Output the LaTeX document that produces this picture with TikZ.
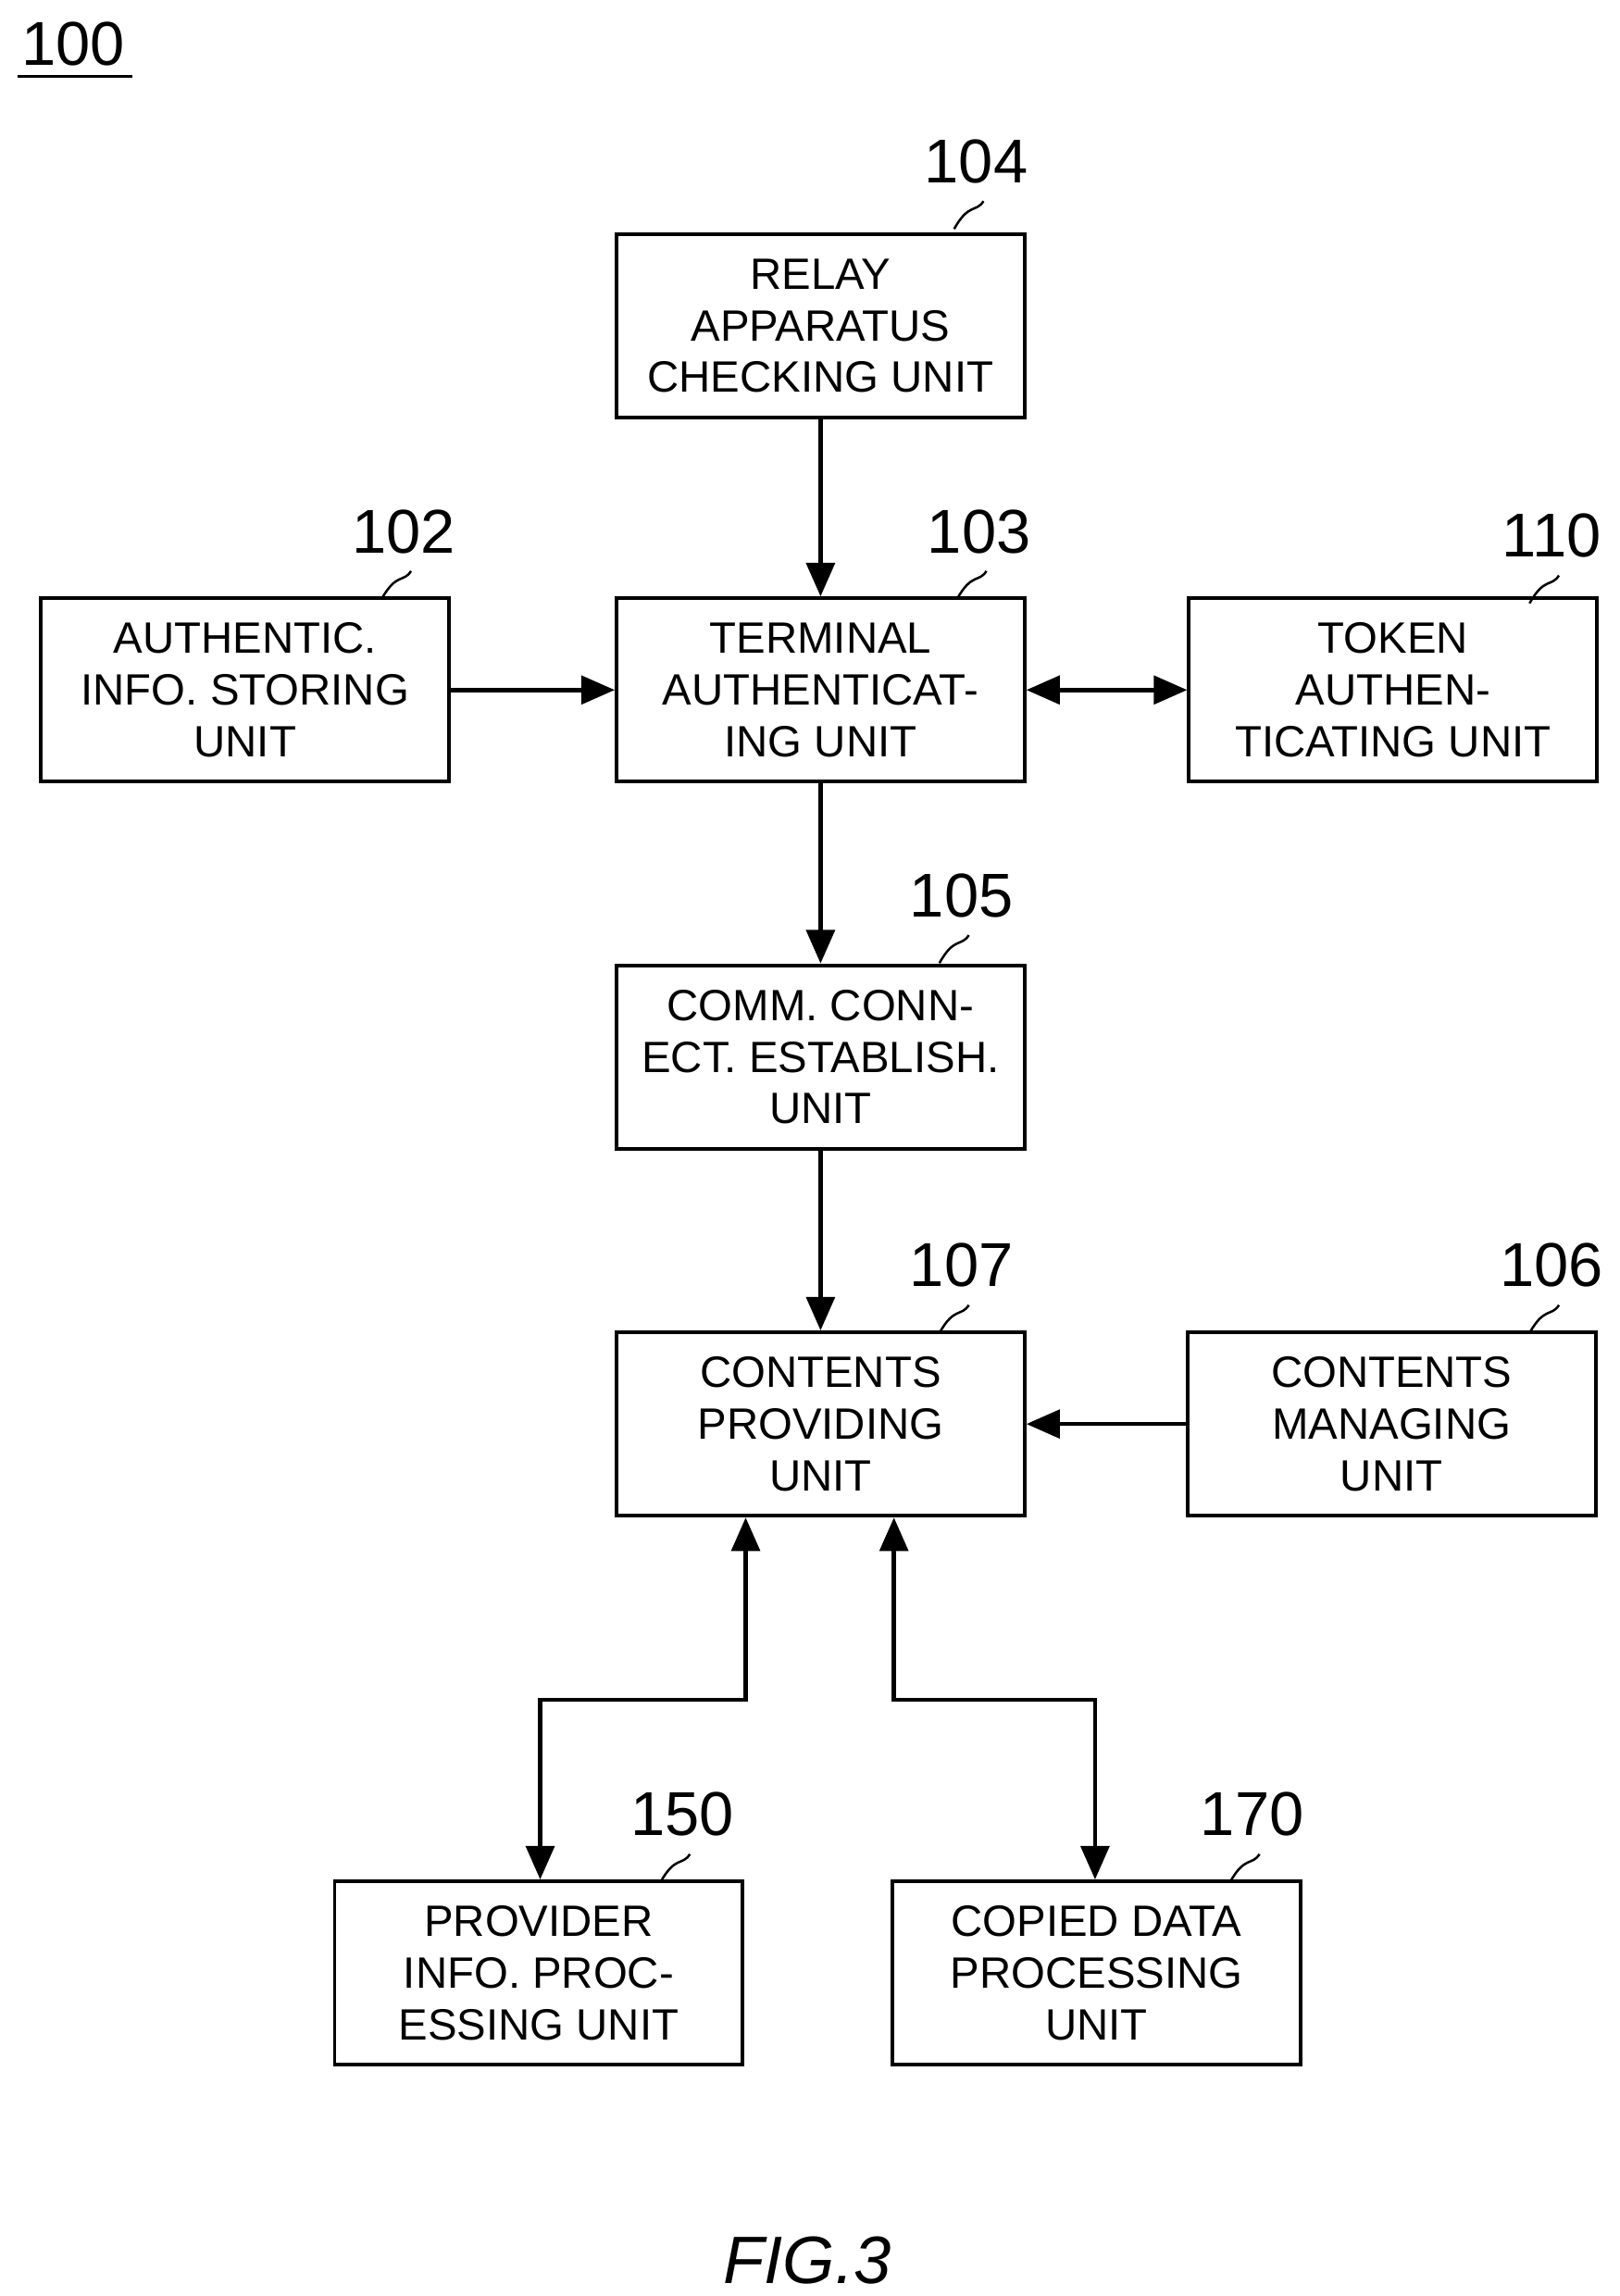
\documentclass[tikz,border=0pt]{standalone}
\usepackage{fontspec}
\setmainfont{Liberation Sans}
\usetikzlibrary{arrows.meta}
\begin{document}
\begin{tikzpicture}[x=0.02cm,y=-0.02cm,
 box/.style={draw,line width=1.4pt,minimum width=278*0.02cm,minimum height=125*0.02cm,align=center,font=\fontsize{17}{20}\selectfont,inner sep=0pt},
 num/.style={font=\fontsize{24}{26}\selectfont},
 ar/.style={line width=1.6pt,-{Triangle[length=13pt,width=11pt]}},
 dar/.style={line width=1.6pt,{Triangle[length=13pt,width=11pt]}-{Triangle[length=13pt,width=11pt]}},
 lead/.style={line width=0.9pt}]
\useasboundingbox (0,0) rectangle (1103,1564);
\node[box] (b104) at (559,222) {RELAY\\APPARATUS\\CHECKING UNIT};
\node[box] (b102) at (167,470) {AUTHENTIC.\\INFO. STORING\\UNIT};
\node[box] (b103) at (559,470) {TERMINAL\\AUTHENTICAT-\\ING UNIT};
\node[box] (b110) at (949,470) {TOKEN\\AUTHEN-\\TICATING UNIT};
\node[box] (b105) at (559,720) {COMM. CONN-\\ECT. ESTABLISH.\\UNIT};
\node[box] (b107) at (559,970) {CONTENTS\\PROVIDING\\UNIT};
\node[box] (b106) at (948,970) {CONTENTS\\MANAGING\\UNIT};
\node[box] (b150) at (367,1344) {PROVIDER\\INFO. PROC-\\ESSING UNIT};
\node[box] (b170) at (747,1344) {COPIED DATA\\PROCESSING\\UNIT};
\node[num] (n100) at (50,30) {100};
\draw[line width=1pt] (12,52) -- (90,52);
\foreach \n/\x/\y in {104/665/110,102/275/362,103/667/362,110/1057/365,105/655/610,107/655/862,106/1057/862,150/465/1236,170/853/1236}{
 \node[num] (l\n) at (\x,\y) {\n};
 \draw[lead] (\x+5,\y+27) .. controls (\x,\y+35) and (\x-5,\y+28) .. (\x-15,\y+46);
}
\draw[ar] (b104) -- (b103);
\draw[ar] (b102) -- (b103);
\draw[dar] (b103) -- (b110);
\draw[ar] (b103) -- (b105);
\draw[ar] (b105) -- (b107);
\draw[ar] (b106) -- (b107);
\coordinate (p1) at (508,1158);
\coordinate (p2) at (368,1158);
\coordinate (q1) at (609,1158);
\coordinate (q2) at (746,1158);
\draw[dar] (b107.south -| p1) -- (p1) -- (p2) -- (b150.north -| p2);
\draw[dar] (b107.south -| q1) -- (q1) -- (q2) -- (b170.north -| q2);
\node[font=\fontsize{26}{28}\selectfont\itshape] (fig) at (550,1540) {FIG.3};
\end{tikzpicture}
\end{document}
